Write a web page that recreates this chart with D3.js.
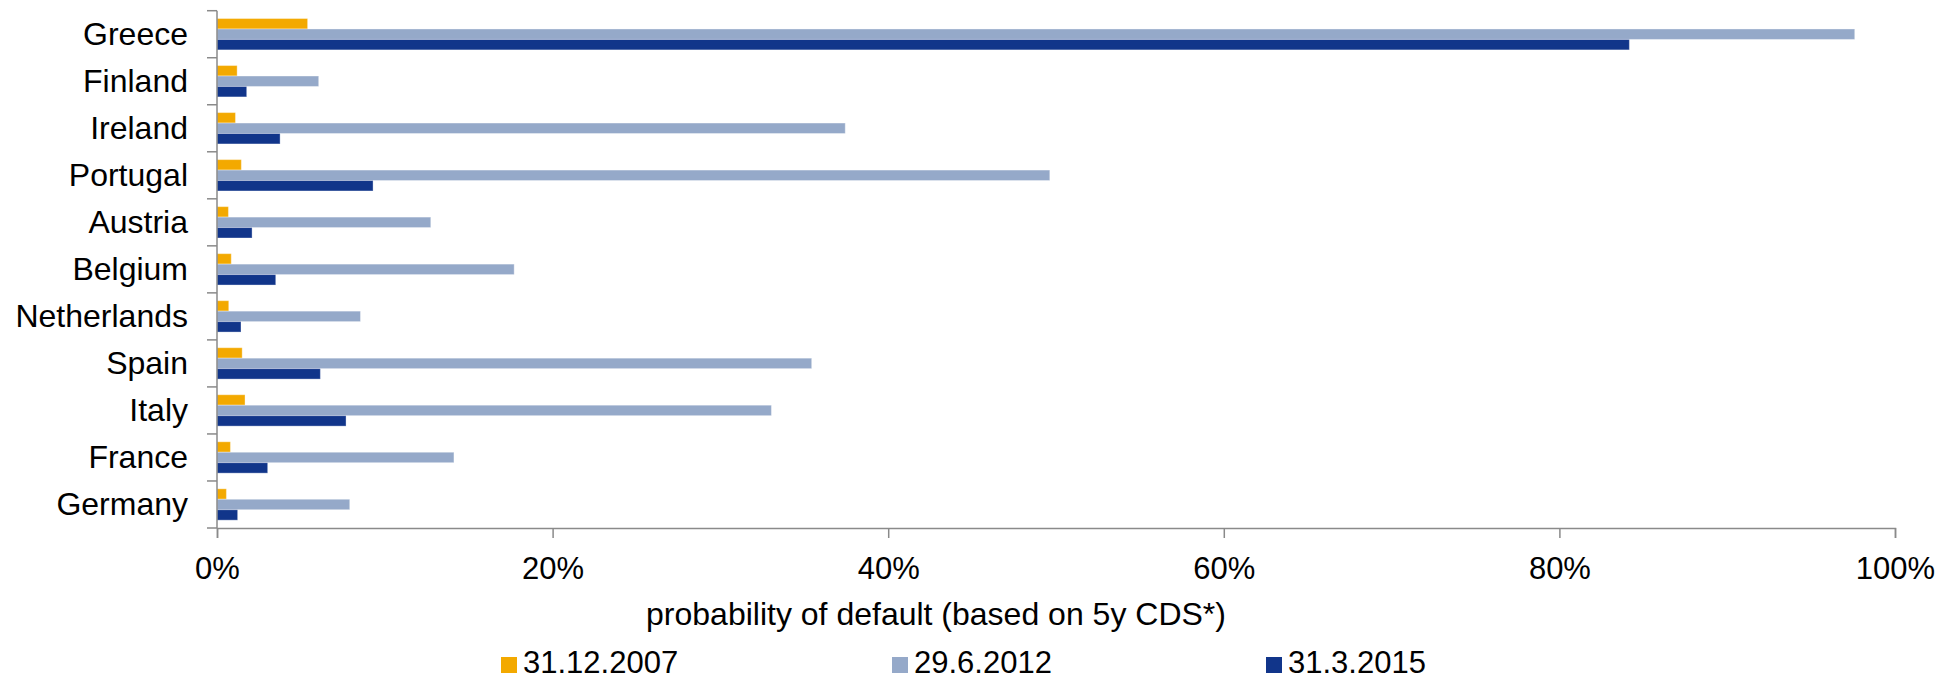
<!DOCTYPE html>
<html>
<head>
<meta charset="utf-8">
<script src="https://cdn.jsdelivr.net/npm/d3@7"></script>
<style>
  body { margin: 0; background: #fff; }
  text { font-family: "Liberation Sans", Arial, sans-serif; fill: #000; }
</style>
</head>
<body>
<div id="chart"></div>
<script>
// data (probability of default, %)
const countries = ["Greece", "Finland", "Ireland", "Portugal", "Austria", "Belgium",
    "Netherlands", "Spain", "Italy", "France", "Germany"];
const seriesNames = ["31.12.2007", "29.6.2012", "31.3.2015"];
const pd2007 = [5.4, 1.2, 1.1, 1.45, 0.68, 0.85, 0.7, 1.5, 1.67, 0.8, 0.56];
const pd2012 = [97.6, 6.06, 37.44, 49.63, 12.74, 17.71, 8.55, 35.44, 33.04, 14.12, 7.91];
const pd2015 = [84.17, 1.77, 3.76, 9.3, 2.09, 3.5, 1.43, 6.16, 7.69, 3.02, 1.23];
const xTicks = [0, 20, 40, 60, 80, 100];

const colors = ["#f3a900", "#95a9c9", "#11358a"];
const axisColor = "#8a8a8a";

const W = 1956, H = 681;
const margin = { top: 10.7, right: 61, bottom: 153, left: 217 };
const width = W - margin.left - margin.right;
const height = H - margin.top - margin.bottom;

const svg = d3.select("#chart").append("svg")
    .attr("width", W)
    .attr("height", H);

const g = svg.append("g")
    .attr("transform", `translate(${margin.left},${margin.top})`);

// build rows for the bars
const allSeries = [pd2007, pd2012, pd2015];
const rows = countries.map((c, i) => ({
    country: c,
    values: seriesNames.map((s, j) => ({ series: s, idx: j, value: allSeries[j][i] }))
}));

// scales
const x = d3.scaleLinear().domain([0, 100]).range([0, width]);
const y = d3.scaleBand().domain(countries).range([0, height])
    .paddingInner(1 / 3).paddingOuter(1 / 6);
const ySub = d3.scaleBand().domain(seriesNames).range([0, y.bandwidth()]);

// bars
const groups = g.selectAll(".row")
    .data(rows)
    .enter().append("g")
    .attr("class", "row")
    .attr("transform", d => `translate(0,${y(d.country)})`);

groups.selectAll("rect")
    .data(d => d.values)
    .enter().append("rect")
    .attr("x", 0)
    .attr("y", d => ySub(d.series))
    .attr("width", d => x(d.value))
    .attr("height", ySub.bandwidth())
    .attr("fill", d => colors[d.idx])
    .attr("stroke", "#fff")
    .attr("stroke-opacity", 0.35)
    .attr("stroke-width", 1);

// y axis: line + ticks at category boundaries
const step = y.step();
const boundaries = d3.range(countries.length + 1).map(i => i * step);
g.append("line")
    .attr("x1", 0).attr("x2", 0)
    .attr("y1", 0).attr("y2", height)
    .attr("stroke", axisColor).attr("stroke-width", 1.5);
g.selectAll(".ytick")
    .data(boundaries)
    .enter().append("line")
    .attr("class", "ytick")
    .attr("x1", -10).attr("x2", 0)
    .attr("y1", d => d).attr("y2", d => d)
    .attr("stroke", axisColor).attr("stroke-width", 1.5);

// category labels
g.selectAll(".ylabel")
    .data(countries)
    .enter().append("text")
    .attr("class", "ylabel")
    .attr("x", -29)
    .attr("y", d => y(d) - step / 6 + step / 2)
    .attr("dy", "0.33em")
    .attr("text-anchor", "end")
    .style("font-size", "32px")
    .text(d => d);

// x axis
const xAxis = g.append("g")
    .attr("transform", `translate(0,${height})`)
    .call(d3.axisBottom(x)
        .tickValues(xTicks)
        .tickSize(10)
        .tickPadding(8)
        .tickFormat(d => d + "%"));
xAxis.select(".domain").attr("stroke", axisColor).attr("stroke-width", 1.5);
xAxis.selectAll(".tick line").attr("stroke", axisColor).attr("stroke-width", 1.5);
xAxis.selectAll(".tick text")
    .attr("dy", null)
    .attr("y", 51)
    .style("font-size", "31px")
    .style("font-family", "Liberation Sans, Arial, sans-serif")
    .attr("fill", "#000");

// x axis title
svg.append("text")
    .attr("x", 936)
    .attr("y", 625)
    .attr("text-anchor", "middle")
    .style("font-size", "32px")
    .text("probability of default (based on 5y CDS*)");

// legend
const legendX = [501, 892, 1266];
const legend = svg.selectAll(".legend")
    .data(seriesNames)
    .enter().append("g")
    .attr("class", "legend")
    .attr("transform", (d, i) => `translate(${legendX[i]},657)`);
legend.append("rect")
    .attr("width", 16).attr("height", 16)
    .attr("fill", (d, i) => colors[i]);
legend.append("text")
    .attr("x", 22)
    .attr("y", 16)
    .style("font-size", "31px")
    .text(d => d);
</script>
</body>
</html>
